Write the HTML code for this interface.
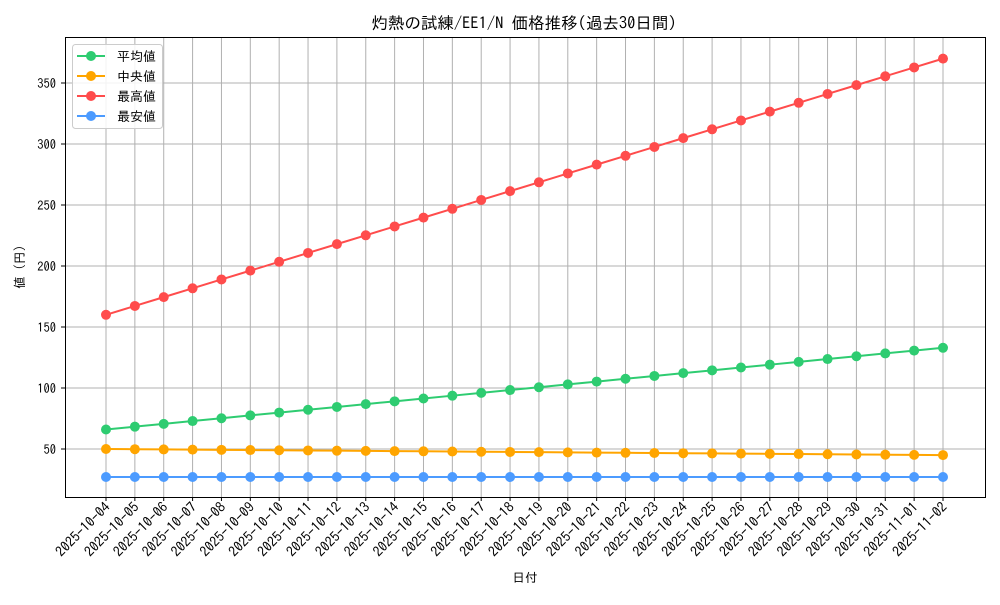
<!DOCTYPE html>
<html><head><meta charset="utf-8"><style>
body{margin:0;background:#fff}
svg text{font-family:"IPAGothic","Noto Sans CJK JP",sans-serif;fill:#000}
</style></head><body>
<svg id="s" width="1000" height="600" xmlns="http://www.w3.org/2000/svg">
<rect width="1000" height="600" fill="#fff"/>
<g id="grid" stroke="#b0b0b0" stroke-width="1"></g>
<g id="series"></g>
<rect x="65.5" y="37.5" width="920" height="460" fill="none" stroke="#000" stroke-width="1"/>
<text x="524" y="29" font-size="16.5" text-anchor="middle">灼熱の試練/EE1/N 価格推移(過去30日間)</text>
<g font-size="12.5" text-anchor="end">
<text x="56" y="454">50</text><text x="56" y="393">100</text><text x="56" y="332">150</text>
<text x="56" y="271">200</text><text x="56" y="210">250</text><text x="56" y="149">300</text><text x="56" y="88">350</text>
</g>
<text transform="translate(24,267) rotate(-90)" font-size="12.5" text-anchor="middle">値 (円)</text>
<text x="525" y="582" font-size="12.5" text-anchor="middle">日付</text>
<g id="xl" font-size="14" text-anchor="end">
<text>2025-10-04</text><text>2025-10-05</text><text>2025-10-06</text><text>2025-10-07</text><text>2025-10-08</text>
<text>2025-10-09</text><text>2025-10-10</text><text>2025-10-11</text><text>2025-10-12</text><text>2025-10-13</text>
<text>2025-10-14</text><text>2025-10-15</text><text>2025-10-16</text><text>2025-10-17</text><text>2025-10-18</text>
<text>2025-10-19</text><text>2025-10-20</text><text>2025-10-21</text><text>2025-10-22</text><text>2025-10-23</text>
<text>2025-10-24</text><text>2025-10-25</text><text>2025-10-26</text><text>2025-10-27</text><text>2025-10-28</text>
<text>2025-10-29</text><text>2025-10-30</text><text>2025-10-31</text><text>2025-11-01</text><text>2025-11-02</text>
</g>
<g>
<rect x="72.5" y="44.5" width="90" height="84" rx="3" fill="#fff" fill-opacity="0.85" stroke="#ccc"/>
<line x1="77" y1="56" x2="105" y2="56" stroke="#2ecc71" stroke-width="2"/><circle cx="91" cy="56" r="5" fill="#2ecc71"/>
<line x1="77" y1="76" x2="105" y2="76" stroke="#ffa500" stroke-width="2"/><circle cx="91" cy="76" r="5" fill="#ffa500"/>
<line x1="77" y1="96" x2="105" y2="96" stroke="#ff4c4c" stroke-width="2"/><circle cx="91" cy="96" r="5" fill="#ff4c4c"/>
<line x1="77" y1="116" x2="105" y2="116" stroke="#4c9bff" stroke-width="2"/><circle cx="91" cy="116" r="5" fill="#4c9bff"/>
<g font-size="13"><text x="117" y="61">平均値</text><text x="117" y="81">中央値</text><text x="117" y="101">最高値</text><text x="117" y="121">最安値</text></g>
</g>
</svg>
<script>
var NS="http://www.w3.org/2000/svg";
function X(i){return 106+28.862*i}
var g=document.getElementById("grid"),s=document.getElementById("series");
function el(p,t,a){var e=document.createElementNS(NS,t);for(var k in a)e.setAttribute(k,a[k]);p.appendChild(e);return e}
for(var i=0;i<30;i++){var x=X(i);el(g,"line",{x1:x,y1:38,x2:x,y2:497});el(g,"line",{x1:x,y1:497,x2:x,y2:501,stroke:"#000"});}
[449,388,327,266,205,144,83].forEach(function(y){el(g,"line",{x1:66,y1:y,x2:985,y2:y});el(g,"line",{x1:61,y1:y,x2:65,y2:y,stroke:"#000"});});
var ts=document.querySelectorAll("#xl text");
ts.forEach(function(t,i){var x=X(i)+5,y=508;t.setAttribute("transform","translate("+x+","+y+") rotate(-45)");});
var ser=[["#2ecc71",function(i){return 429.5-2.818*i}],["#ffa500",function(i){return 449+0.21*i}],["#ff4c4c",function(i){return 314.8-8.834*i}],["#4c9bff",function(i){return 477}]];
ser.forEach(function(sr){var pts=[];for(var i=0;i<30;i++)pts.push(X(i)+","+sr[1](i));
el(s,"polyline",{points:pts.join(" "),fill:"none",stroke:sr[0],"stroke-width":2});
for(var i=0;i<30;i++)el(s,"circle",{cx:X(i),cy:sr[1](i),r:5,fill:sr[0]});});
</script>
</body></html>
